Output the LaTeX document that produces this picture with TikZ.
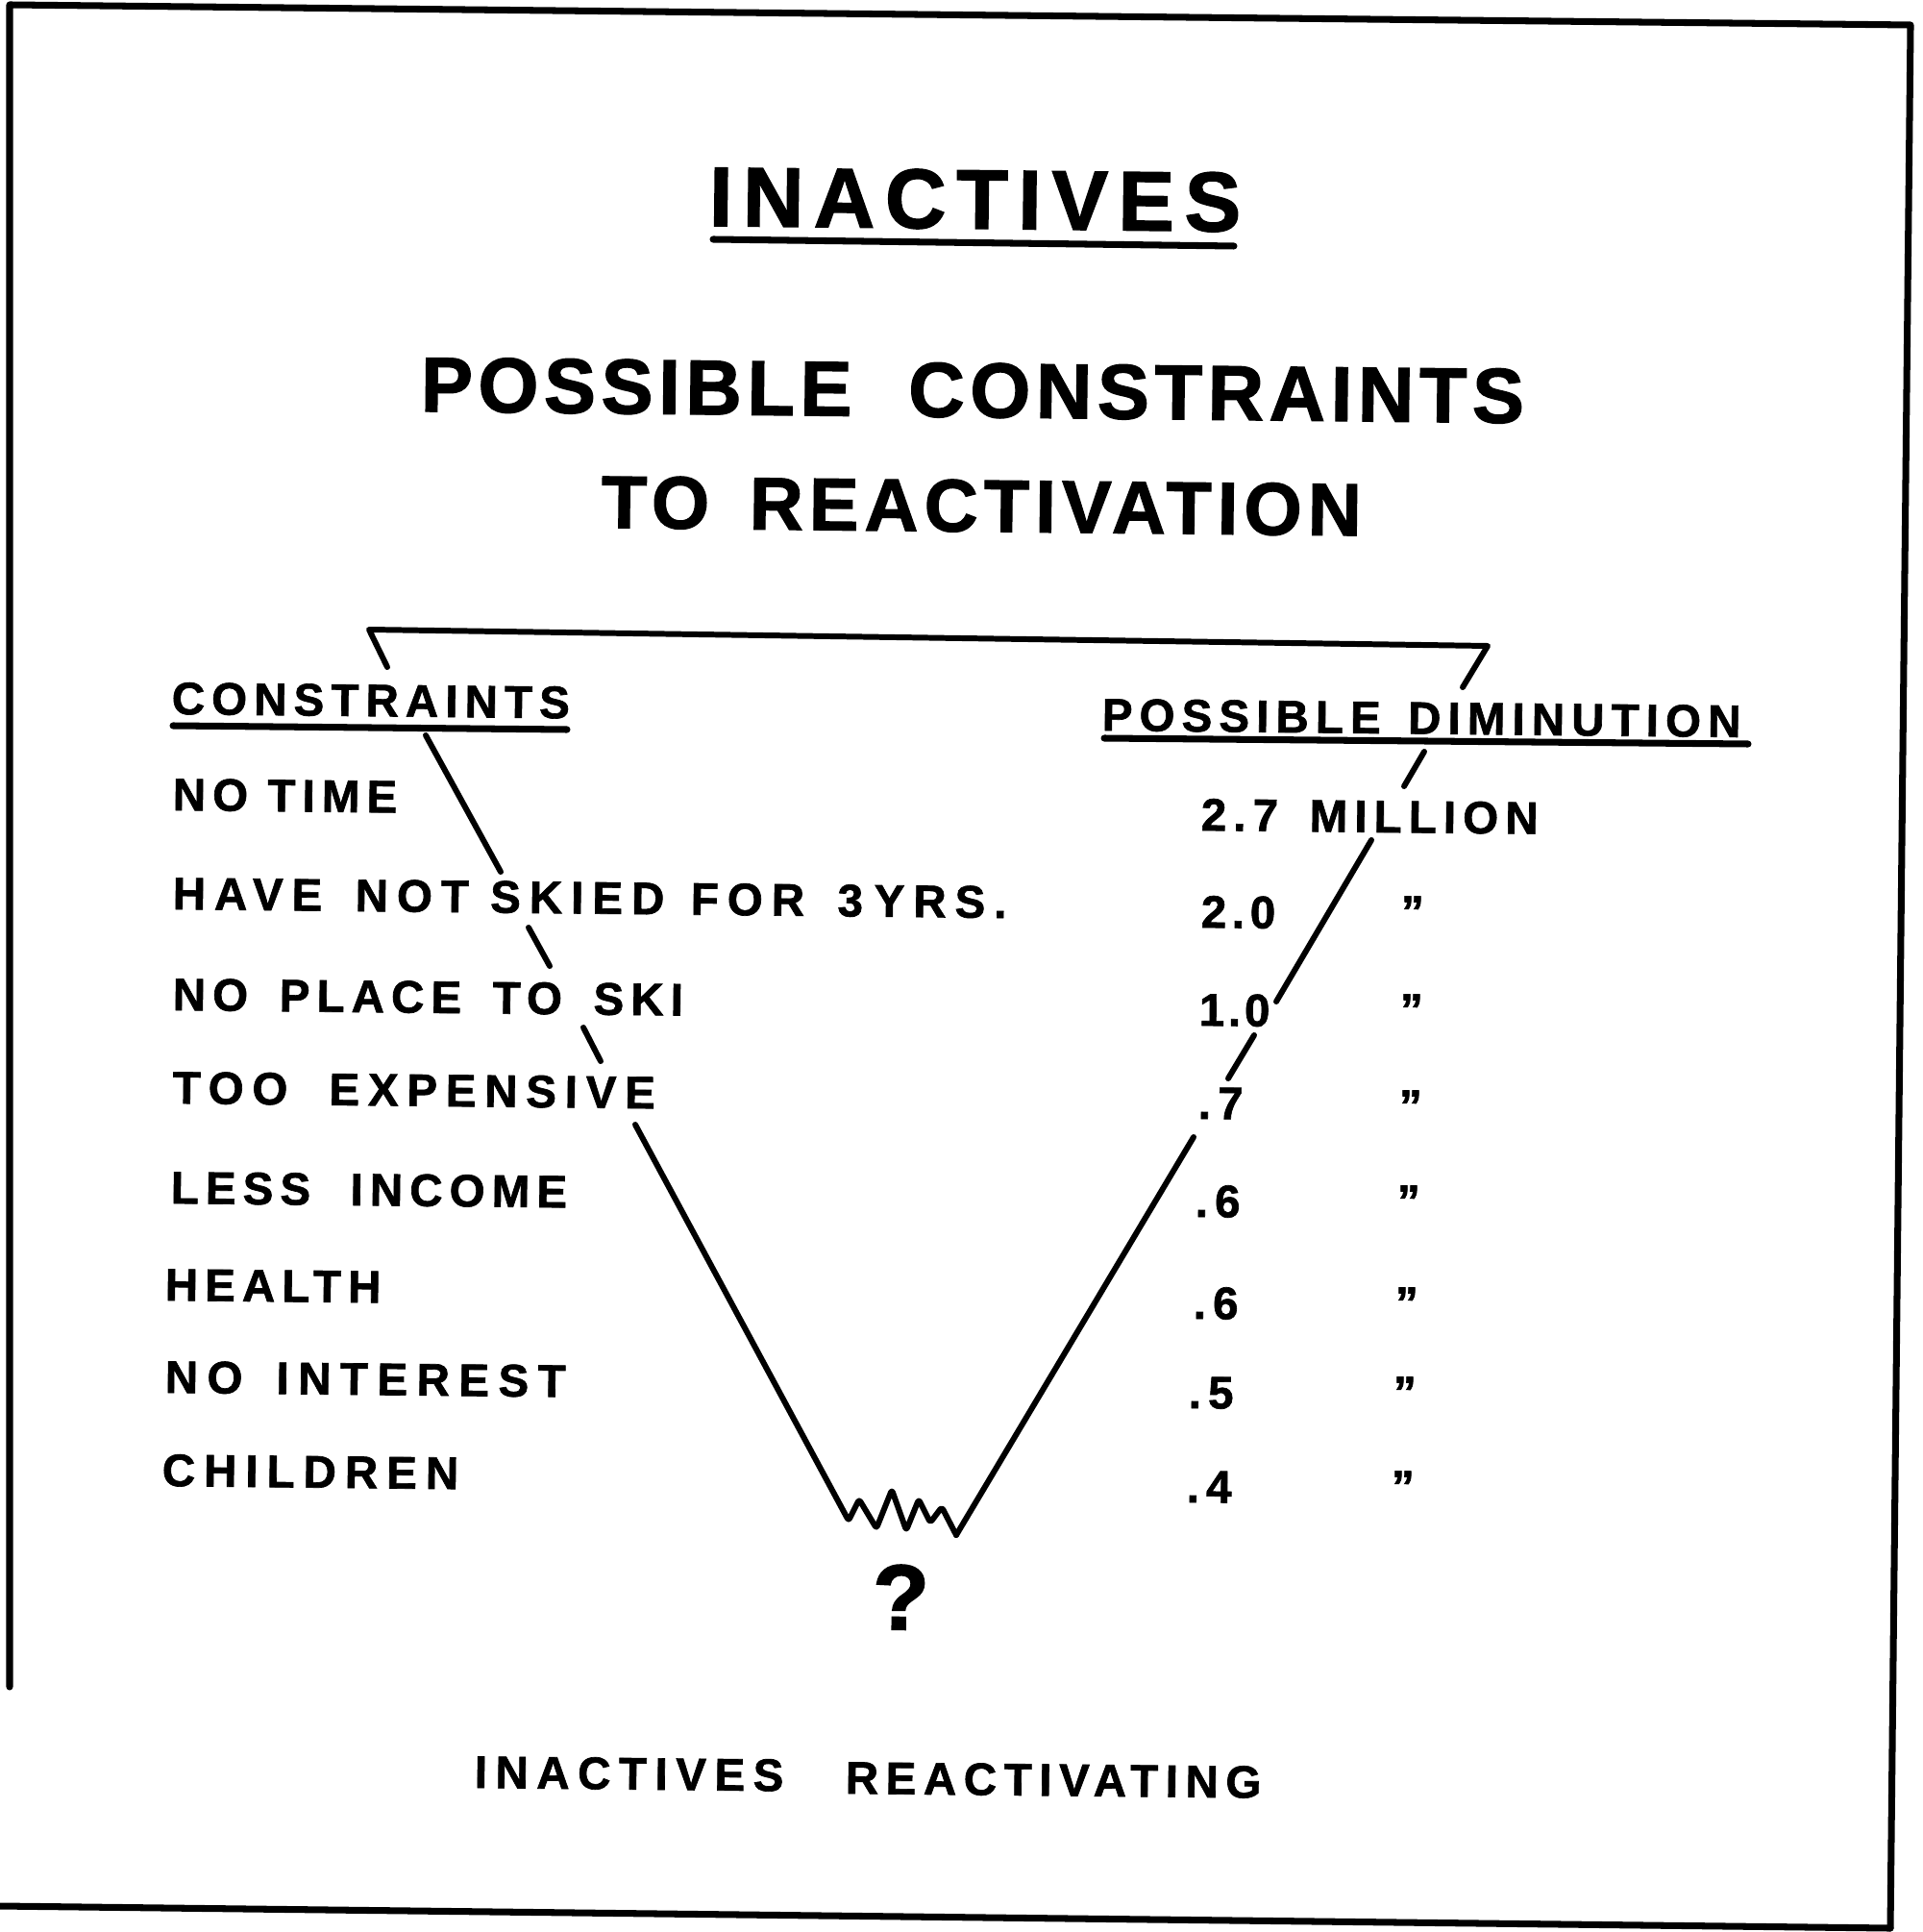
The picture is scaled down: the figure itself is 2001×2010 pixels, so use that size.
\documentclass[tikz,border=0pt]{standalone}
\usepackage{fontspec}
\setmainfont{Liberation Sans}
\tikzset{
  txt/.style={inner sep=0pt, anchor=base west, rotate=-0.6},
  bigt/.style={txt, font=\bfseries\fontsize{25}{29}\selectfont\addfontfeature{LetterSpace=12,FakeBold=1.6}},
  subt/.style={txt, font=\bfseries\fontsize{23}{27}\selectfont\addfontfeature{LetterSpace=7,FakeBold=1.6}},
  subtb/.style={txt, font=\bfseries\fontsize{22}{26}\selectfont\addfontfeature{LetterSpace=8,FakeBold=1.6}},
  lst/.style={txt, font=\bfseries\fontsize{13.5}{16}\selectfont\addfontfeature{LetterSpace=15,FakeBold=1.4}},
  lstw/.style={txt, font=\bfseries\fontsize{13.5}{16}\selectfont\addfontfeature{LetterSpace=#1,FakeBold=1.4}},
  qmark/.style={txt, font=\bfseries\fontsize{27.4}{32}\selectfont\addfontfeature{FakeBold=1.8}},
  bordline/.style={line width=2pt, line cap=round, line join=round},
  vl/.style={line width=1.7pt, line cap=round, line join=round},
  uline/.style={line width=2pt, line cap=round},
}
\begin{document}
\begin{tikzpicture}[x=0.01cm, y=-0.01cm]
\useasboundingbox (0,0) rectangle (2001,2010);
\fill[white] (0,0) rectangle (2001,2010);
% frame
\draw[bordline] (10,1755) -- (10,5) -- (1988,26) -- (1967,2006);
\draw[bordline] (0,1983) -- (1967,2006);
% titles
\node[bigt] (title) at (737,235) {INACTIVES};
\draw[uline] (742,249) -- (1284,256);
\node[subt] (sub1) at (437,428) {POSSIBLE\hspace{8.7pt} CONSTRAINTS};
\node[subtb] (sub2) at (625,549) {TO\hspace{4pt} REACTIVATION};
% column headers
\node[lst] (hcon) at (178,743) {CONSTRAINTS};
\draw[uline] (180,755) -- (590,759);
\node[lst] (hdim) at (1146,760) {POSSIBLE\hspace{2.3pt} DIMINUTION};
\draw[uline] (1149,768) -- (1819,774);
% constraints
\node[lst] (c1) at (179,843) {NO TIME};
\node[lstw=19] (c2) at (179,946) {HAVE\hspace{3.5pt} NOT SKIED\hspace{1.5pt} FOR\hspace{3.5pt} 3\hspace{-3pt} YRS.};
\node[lst] (c3) at (179,1051) {NO\hspace{3.5pt} PLACE\hspace{3.5pt} TO\hspace{3.5pt} SKI};
\node[lstw=18.5] (c4) at (179,1148) {TOO\hspace{6pt} EXPENSIVE};
\node[lst] (c5) at (177,1252) {LESS\hspace{6pt} INCOME};
\node[lst] (c6) at (171,1353) {HEALTH};
\node[lstw=20] (c7) at (171,1449) {NO\hspace{3.5pt} INTEREST};
\node[lstw=19] (c8) at (168,1546) {CHILDREN};
% diminution values
\node[lst] (v1) at (1249,864) {2.7\hspace{3.5pt} MILLION};
\node[lstw=12] (v2) at (1249,965) {2.0};
\node[lstw=8] (v3) at (1247,1067) {1.0};
\node[lst] (v4) at (1246,1164) {.7};
\node[lst] (v5) at (1243,1266) {.6};
\node[lst] (v6) at (1241,1372) {.6};
\node[lst] (v7) at (1236,1465) {.5};
\node[lst] (v8) at (1234,1563) {.4};
\node[lst] (q2) at (1457,965) {”};
\node[lst] (q3) at (1456,1067) {”};
\node[lst] (q4) at (1455,1167) {”};
\node[lst] (q5) at (1453,1266) {”};
\node[lst] (q6) at (1451,1372) {”};
\node[lst] (q7) at (1449,1465) {”};
\node[lst] (q8) at (1447,1563) {”};
% funnel
\coordinate (ftl) at (384,655);
\coordinate (ftr) at (1548,672);
\coordinate (fbot) at (995,1597);
\draw[vl] (403,694) -- (ftl) -- (ftr) -- (1522,715);
\draw[vl] (443,765) -- (521,907);
\draw[vl] (550,965) -- (572,1005);
\draw[vl] (607,1069) -- (625,1104);
\draw[vl, rounded corners=0.8pt] (661,1170) -- (883,1582) -- (894,1560) -- (912,1590) -- (928,1550) -- (943,1592) -- (956,1560) -- (968,1584) -- (980,1568) -- (fbot);
\draw[vl] (fbot) -- (1242,1183);
\draw[vl] (1278,1122) -- (1305,1077);
\draw[vl] (1328,1042) -- (1427,874);
\draw[vl] (1461,818) -- (1482,782);
% question mark and footer
\node[qmark] (qm) at (907,1695) {?};
\node[lstw=18] (b1) at (493,1860) {INACTIVES};
\node[lstw=16] (b2) at (879,1866) {REACTIVATING};
\end{tikzpicture}
\end{document}
